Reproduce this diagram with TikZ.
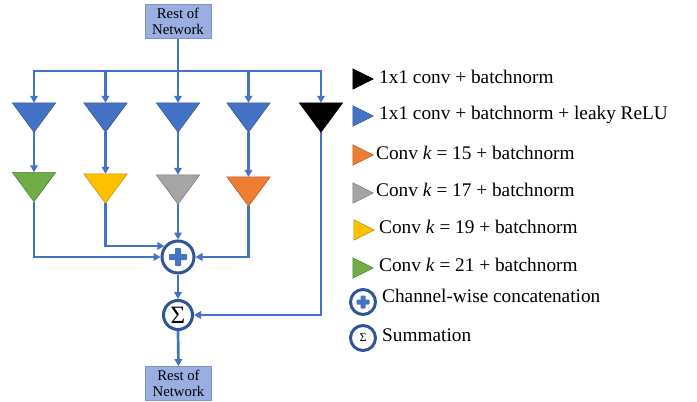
\documentclass[tikz,border=0pt]{standalone}
\usepackage{fontspec}
\setmainfont{Liberation Serif}
\usetikzlibrary{arrows.meta}

\definecolor{lineblue}{HTML}{4472C4}
\definecolor{ringblue}{HTML}{2F5597}
\definecolor{cgreen}{HTML}{70AD47}
\definecolor{cyellow}{HTML}{FFC000}
\definecolor{cgray}{HTML}{A5A5A5}
\definecolor{corange}{HTML}{ED7D31}
\definecolor{boxfill}{HTML}{9AAEE2}
\definecolor{boxedge}{HTML}{8094C6}

% downward triangle filling a rectangular slot node
\newcommand\DrawDownTri[2]{%
  \filldraw[fill=#2, draw=#2!75!black, line width=0.6pt]
    (#1.north west) -- (#1.north east) -- (#1.south) -- cycle;}
% right-pointing key triangle
\newcommand\DrawRightTri[2]{%
  \filldraw[fill=#2, draw=#2!75!black, line width=0.5pt]
    (#1.north west) -- (#1.east) -- (#1.south west) -- cycle;}
% plus sign inside a ring node
\newcommand\DrawPlus[3]{%
  \fill[lineblue, rounded corners=0.8pt]
    ([shift={(-#2,-#3)}]#1.center) rectangle ([shift={(#2,#3)}]#1.center);
  \fill[lineblue, rounded corners=0.8pt]
    ([shift={(-#3,-#2)}]#1.center) rectangle ([shift={(#3,#2)}]#1.center);}

\begin{document}
\begin{tikzpicture}[x=1pt,y=-1pt,
  conn/.style={draw=lineblue, line width=2.7pt},
  arr/.style={conn, -{Triangle[length=7pt,width=7.5pt]}},
  netbox/.style={draw=boxedge, fill=boxfill, line width=0.8pt,
    minimum width=66pt, minimum height=34pt, inner sep=0pt, align=center,
    font=\fontsize{14.8}{15.5}\selectfont},
  trislot/.style={minimum width=43pt, minimum height=29pt, inner sep=0pt},
  keyslot/.style={minimum width=20pt, minimum height=20pt, inner sep=0pt},
  ring/.style={circle, draw=ringblue, fill=white, line width=3pt,
    minimum size=#1, inner sep=0pt},
  keytext/.style={anchor=base west, inner sep=0pt,
    font=\fontsize{19.3}{23}\selectfont},
]
\useasboundingbox (0,0) rectangle (697,402);

% network blocks
\node[netbox] (top) at (178,21.5) {Rest of\\Network};
\node[netbox] (bot) at (178.5,383.5) {Rest of\\Network};

% triangle slots
\node[trislot] (b1) at (34,117.5) {};
\node[trislot] (b2) at (105.5,117.5) {};
\node[trislot] (b3) at (178,117.5) {};
\node[trislot] (b4) at (248.5,117.5) {};
\node[trislot] (bk) at (321,117.5) {};
\node[trislot] (g1) at (34,187) {};
\node[trislot] (y1) at (105.5,188.5) {};
\node[trislot] (g3) at (178,189.5) {};
\node[trislot] (o1) at (248.5,191.5) {};

% merge nodes
\node[ring=32pt] (plus) at (178,257) {};
\node[ring=29pt, font=\fontsize{25}{25}\selectfont] (sum) at (178,315) {Σ};
\DrawPlus{plus}{9}{3}

\coordinate (split) at (178,71);

% connectors
\draw[conn] (top.south) -- (split);
\draw[arr] (split) -| (b1.north);
\draw[arr] (split) -| (b2.north);
\draw[arr] (split) -- (b3.north);
\draw[arr] (split) -| (b4.north);
\draw[arr] (split) -| (bk.north);
\draw[arr] (b1.south) -- (g1.north);
\draw[arr] (b2.south) -- (y1.north);
\draw[arr] (b3.south) -- (g3.north);
\draw[arr] (b4.south) -- (o1.north);
\draw[arr] (g1.south) |- (plus.west);
\draw[arr] (y1.south) |- (plus.141);
\draw[arr] (g3.south) -- (plus.north);
\draw[arr] (o1.south) |- (plus.east);
\draw[arr] (plus.south) -- (sum.north);
\draw[arr] (bk.south) |- (sum.east);
\draw[arr] (sum.south) -- (bot.north);

% triangles
\DrawDownTri{b1}{lineblue}
\DrawDownTri{b2}{lineblue}
\DrawDownTri{b3}{lineblue}
\DrawDownTri{b4}{lineblue}
\DrawDownTri{bk}{black}
\DrawDownTri{g1}{cgreen}
\DrawDownTri{y1}{cyellow}
\DrawDownTri{g3}{cgray}
\DrawDownTri{o1}{corange}

% key
\node[keyslot] (k1) at (363,79) {};
\node[keyslot] (k2) at (363,116) {};
\node[keyslot] (k3) at (363,155) {};
\node[keyslot] (k4) at (363,193) {};
\node[keyslot] (k5) at (364,230) {};
\node[keyslot] (k6) at (363,268) {};
\DrawRightTri{k1}{black}
\DrawRightTri{k2}{lineblue}
\DrawRightTri{k3}{corange}
\DrawRightTri{k4}{cgray}
\DrawRightTri{k5}{cyellow}
\DrawRightTri{k6}{cgreen}
\node[ring=25pt, line width=3pt] (k7) at (363,302) {};
\DrawPlus{k7}{6.5}{2.5}
\node[ring=25pt, line width=3pt, font=\fontsize{12}{12}\selectfont] (k8) at (363,338) {Σ};

\node[keytext] (t1) at (379,83) {1x1 conv + batchnorm};
\node[keytext] (t2) at (379,119.5) {1x1 conv + batchnorm + leaky ReLU};
\node[keytext] (t3) at (376,159) {Conv \textit{k} = 15 + batchnorm};
\node[keytext] (t4) at (376,196.5) {Conv \textit{k} = 17 + batchnorm};
\node[keytext] (t5) at (379,233.5) {Conv \textit{k} = 19 + batchnorm};
\node[keytext] (t6) at (379,271) {Conv \textit{k} = 21 + batchnorm};
\node[keytext] (t7) at (382,302) {Channel-wise concatenation};
\node[keytext] (t8) at (382,341.5) {Summation};
\end{tikzpicture}
\end{document}
